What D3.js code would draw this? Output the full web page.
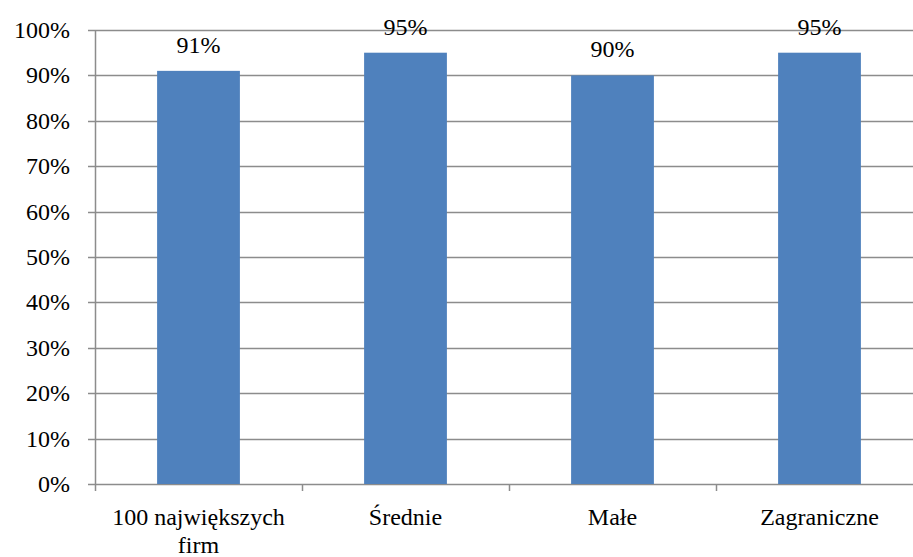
<!DOCTYPE html>
<html>
<head>
<meta charset="utf-8">
<script src="https://cdn.jsdelivr.net/npm/d3@7"></script>
<style>
  html, body { margin: 0; padding: 0; background: #fff; }
  .lbl { font-family: "Liberation Serif"; }
</style>
</head>
<body>
<svg id="chart" width="913" height="557"></svg>
<script>
// Share of firms per group
const categories = ["100 największych firm", "Średnie", "Małe", "Zagraniczne"];
const values = [0.91, 0.95, 0.90, 0.95];
const valueLabels = ["91%", "95%", "90%", "95%"];
const yTicks = [0, 0.1, 0.2, 0.3, 0.4, 0.5, 0.6, 0.7, 0.8, 0.9, 1.0];
const catLines = [["100 największych", "firm"], ["Średnie"], ["Małe"], ["Zagraniczne"]];

const FS = 24;

const svg = d3.select("#chart");
const plotLeft = 95, plotRight = 923, plotTop = 30, plotBottom = 484;

const x = d3.scaleBand().domain(categories).range([plotLeft, plotRight]).paddingInner(0.6).paddingOuter(0.3);
const xCat = d3.scaleBand().domain(categories).range([plotLeft, plotRight]);
const y = d3.scaleLinear().domain([0, 1]).range([plotBottom, plotTop]);

const gridColor = "#8c8c8c";

// horizontal gridlines with outward ticks
svg.selectAll("line.grid").data(yTicks).join("line")
  .attr("class", "grid")
  .attr("x1", plotLeft - 7).attr("x2", plotRight)
  .attr("y1", d => Math.round(y(d)) + 0.5).attr("y2", d => Math.round(y(d)) + 0.5)
  .attr("stroke", gridColor).attr("stroke-width", 1.5);

// y axis line
svg.append("line")
  .attr("x1", plotLeft + 0.5).attr("x2", plotLeft + 0.5)
  .attr("y1", plotTop).attr("y2", plotBottom + 7)
  .attr("stroke", gridColor).attr("stroke-width", 1.5);

// category separator ticks
svg.selectAll("line.sep").data(categories.slice(1)).join("line")
  .attr("class", "sep")
  .attr("x1", d => Math.round(xCat(d)) + 0.5).attr("x2", d => Math.round(xCat(d)) + 0.5)
  .attr("y1", plotBottom).attr("y2", plotBottom + 7)
  .attr("stroke", gridColor).attr("stroke-width", 1.5);

// bars
svg.selectAll("rect.bar").data(values).join("rect")
  .attr("class", "bar")
  .attr("x", (d, i) => x(categories[i]))
  .attr("width", x.bandwidth())
  .attr("y", d => y(d))
  .attr("height", d => plotBottom - y(d))
  .attr("fill", "#4f81bd");

// y tick labels
svg.selectAll("text.ytick").data(yTicks).join("text")
  .attr("class", "ytick")
  .attr("x", plotLeft - 25).attr("y", d => y(d) + 8)
  .attr("text-anchor", "end")
  .attr("font-size", FS)
  .style("font-family", () => "\"Liberation Serif\"")
  .text(d => d3.format(".0%")(d));

// value labels
svg.selectAll("text.val").data(values).join("text")
  .attr("class", "val")
  .attr("x", (d, i) => x(categories[i]) + x.bandwidth() / 2)
  .attr("y", d => y(d) - 18)
  .attr("text-anchor", "middle")
  .attr("font-size", FS)
  .attr("font-family", "Liberation Serif")
  .text((d, i) => valueLabels[i]);

// category labels (first one wraps to two lines)
catLines.forEach((lines, i) => {
  const cx = x(categories[i]) + x.bandwidth() / 2;
  lines.forEach((line, k) => {
    svg.append("text")
      .attr("class", "lbl")
      .attr("x", cx).attr("y", 525 + k * 28)
      .attr("text-anchor", "middle")
      .attr("font-size", FS)
      .text(line);
  });
});
</script>
</body>
</html>
